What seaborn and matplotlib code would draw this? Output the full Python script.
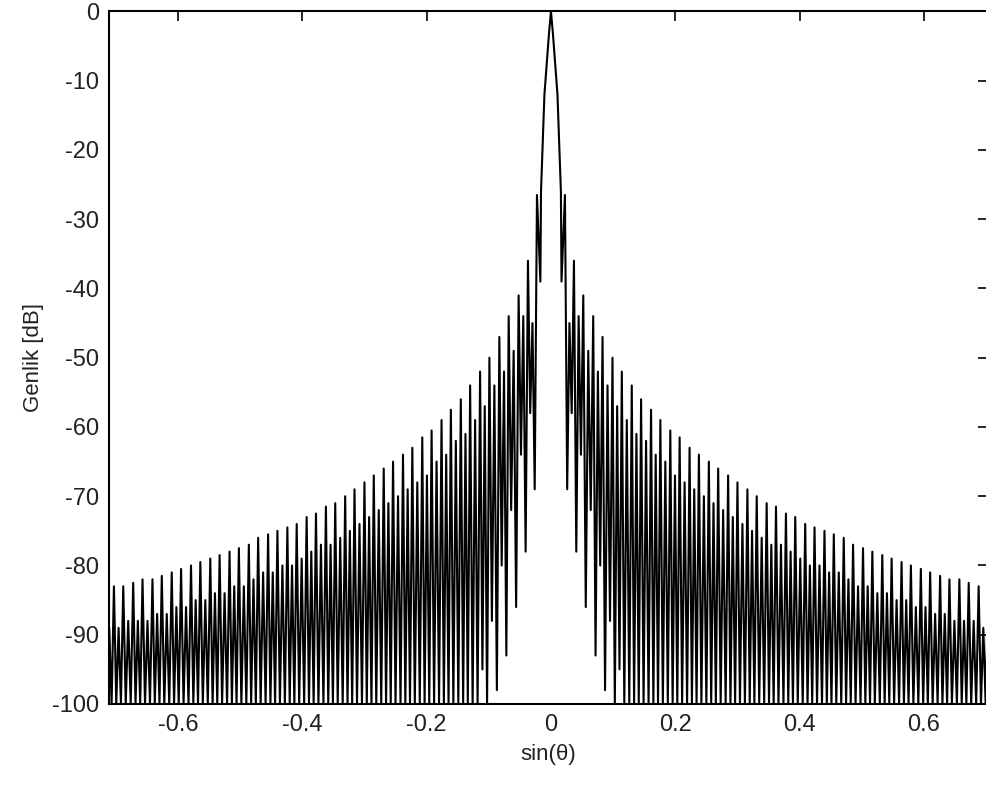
import matplotlib
matplotlib.use("Agg")
import matplotlib.pyplot as plt
import seaborn as sns
import pandas as pd

# right half of the pattern (pattern is symmetric)
main_x = [0.0, 0.003, 0.0105, 0.016, 0.017]
main_db = [0, -3, -12, -26, -39]

lobe_x = [0.0225, 0.037, 0.052, 0.068, 0.083, 0.099, 0.114, 0.130, 0.145, 0.161,
          0.176, 0.192, 0.207, 0.223, 0.238, 0.254, 0.269, 0.285, 0.300, 0.316,
          0.331, 0.347, 0.362, 0.378, 0.393, 0.409, 0.424, 0.440, 0.455, 0.471,
          0.486, 0.502, 0.517, 0.533, 0.548, 0.564, 0.579, 0.595, 0.610, 0.626,
          0.641, 0.657, 0.672, 0.688, 0.703]
major_db = [-26.5, -36, -41, -44, -47, -50, -52, -54, -56, -57.5,
            -59, -60.5, -61.5, -63, -64, -65, -66, -67, -68, -69,
            -70, -71, -71.5, -72.5, -73, -74, -74.5, -75, -75.5, -76,
            -77, -77.5, -78, -78.5, -79, -79.5, -80, -80.5, -81, -81.5,
            -82, -82, -82.5, -83, -83]
minor_db = [-45, -44, -49, -52, -54, -57, -59, -61, -62, -64,
            -65, -67, -68, -69, -70, -71, -72, -73, -74, -75,
            -76, -77, -77, -78, -79, -80, -80, -81, -81, -82,
            -83, -83, -84, -84, -85, -85, -86, -86, -87, -87,
            -88, -88, -88, -89, -89]
null_a_db = [-69, -78, -86, -93, -98] + [-100] * 40
null_b_db = [-58, -64, -72, -80, -88, -95] + [-100] * 39

xticks = [-0.6, -0.4, -0.2, 0, 0.2, 0.4, 0.6]
xtick_labels = ["-0.6", "-0.4", "-0.2", "0", "0.2", "0.4", "0.6"]
yticks = [0, -10, -20, -30, -40, -50, -60, -70, -80, -90, -100]

# build right half vertices
rx = list(main_x)
ry = list(main_db)
n = len(lobe_x)
for i in range(n):
    x0 = lobe_x[i]
    step = (lobe_x[i + 1] - x0) if i < n - 1 else (x0 - lobe_x[i - 1])
    rx += [x0, x0 + 0.25 * step, x0 + 0.5 * step, x0 + 0.75 * step]
    ry += [major_db[i], null_a_db[i], minor_db[i], null_b_db[i]]

lx = [-v for v in rx[:0:-1]]
ly = ry[:0:-1]
df = pd.DataFrame({"s": lx + rx, "db": ly + ry})

sns.set_style("white")
plt.rcParams["font.family"] = ["Liberation Sans", "DejaVu Sans"]
plt.rcParams["axes.unicode_minus"] = False

fig = plt.figure(figsize=(9.86, 7.91), dpi=100)
ax = fig.add_axes([0.1105, 0.110, 0.8915, 0.8755])
sns.lineplot(data=df, x="s", y="db", sort=False, estimator=None,
             color="black", linewidth=1.5, ax=ax)

ax.set_xlim(-0.711, 0.703)
ax.set_ylim(-100, 0)
ax.set_xticks(xticks)
ax.set_xticklabels(xtick_labels)
ax.set_yticks(yticks)
ax.set_yticklabels([str(v) for v in yticks])
ax.tick_params(direction="in", length=7, width=1.2, top=True, right=True,
               labelsize=17, labelcolor="#222222", pad=7, color="black")
for sp in ax.spines.values():
    sp.set_color("black")
    sp.set_linewidth(1.5)
ax.set_xlabel("sin(θ)", fontsize=16, color="#222222", labelpad=6)
ax.set_ylabel("Genlik [dB]", fontsize=16, color="#222222", labelpad=6)

fig.savefig("out.png", dpi=100)
